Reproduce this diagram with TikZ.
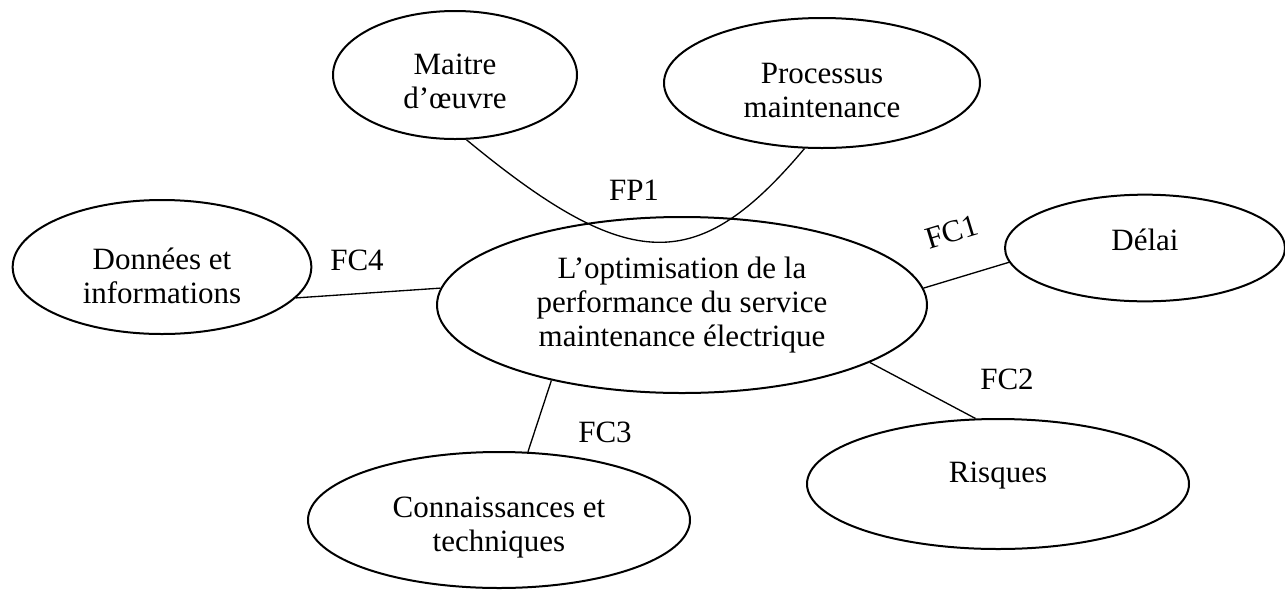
\documentclass[tikz,border=0pt]{standalone}
\usepackage{fontspec}
\setmainfont{Liberation Serif}
\usetikzlibrary{shapes.geometric}
% invisible rule that makes the first line taller, so the text sits lower in its bubble
\newcommand{\padtop}[1]{\rule{0pt}{#1}}
\begin{document}
\begin{tikzpicture}[x=0.75pt, y=-0.75pt,
  bubble/.style={draw, ellipse, line width=1.5pt, inner sep=0pt, align=center,
                 font=\fontsize{23.25}{25.5}\selectfont},
  link/.style={line width=1pt},
  fn/.style={font=\fontsize{23.25}{25.5}\selectfont, inner sep=0pt}]
\useasboundingbox (0,0) rectangle (1285,590);

% ellipses
\node[bubble, minimum width=183pt, minimum height=96pt] (maitre) at (455,75)
  {\padtop{25pt}Maitre\\d’œuvre};
\node[bubble, minimum width=237pt, minimum height=97.5pt] (proc) at (822,83)
  {\padtop{26.5pt}Processus\\maintenance};
\node[bubble, minimum width=224pt, minimum height=100.5pt] (donnees) at (162,267)
  {\padtop{29.5pt}Données et\\informations};
\node[bubble, minimum width=367.5pt, minimum height=132pt] (central) at (682,305)
  {L’optimisation de la\\performance du service\\maintenance électrique};
\node[bubble, minimum width=210pt, minimum height=80pt, text height=16pt, text depth=12pt] (delai) at (1145,248) {Délai};
\node[bubble, minimum width=286.5pt, minimum height=97.5pt, text height=15pt, text depth=18pt] (risques) at (998,484) {Risques};
\node[bubble, minimum width=286.5pt, minimum height=102pt] (conn) at (499,520)
  {\padtop{26.5pt}Connaissances et\\techniques};

% connectors
\draw[link] (donnees.-13) -- (central.176);
\draw[link] (central.4) -- (delai.186);
\draw[link] (central.-17) -- (risques.109);
\draw[link] (central.-150) -- (conn.67);
\draw[link] (maitre.-80) .. controls (630,275) and (698,275) .. (proc.-105);

% function labels
\node[fn] (fp1) at (634,190) {FP1};
\node[fn] (fc4) at (357,260) {FC4};
\node[fn, rotate=17] (fc1) at (952,232) {FC1};
\node[fn] (fc2) at (1007,379) {FC2};
\node[fn] (fc3) at (605,432) {FC3};
\end{tikzpicture}
\end{document}
